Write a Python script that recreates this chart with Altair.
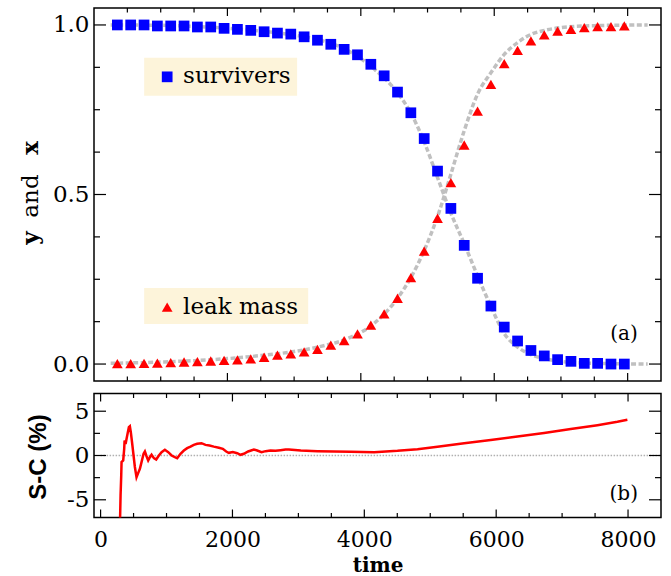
import altair as alt
import pandas as pd

# ---------------- data ----------------
marker_time = [350, 550, 750, 950, 1150, 1350, 1550, 1750, 1950, 2150, 2350, 2550, 2750,
               2950, 3150, 3350, 3550, 3750, 3950, 4150, 4350, 4550, 4750, 4950, 5150, 5350,
               5550, 5750, 5950, 6150, 6350, 6550, 6750, 6950, 7150, 7350, 7550, 7750, 7950]
survivers = [1.000, 1.000, 1.000, 0.997, 0.997, 0.997, 0.994, 0.994, 0.990, 0.987, 0.984,
             0.980, 0.976, 0.973, 0.965, 0.955, 0.943, 0.928, 0.912, 0.884, 0.850, 0.802,
             0.741, 0.665, 0.569, 0.459, 0.350, 0.253, 0.171, 0.109, 0.068, 0.040, 0.024,
             0.013, 0.008, 0.002, 0.002, 0.000, 0.000]
leak_mass = [0.001, 0.001, 0.002, 0.003, 0.004, 0.006, 0.007, 0.009, 0.011, 0.012, 0.015,
             0.020, 0.026, 0.030, 0.036, 0.043, 0.056, 0.069, 0.089, 0.115, 0.148, 0.194,
             0.255, 0.333, 0.430, 0.535, 0.646, 0.746, 0.825, 0.886, 0.925, 0.953, 0.971,
             0.982, 0.987, 0.992, 0.995, 0.995, 0.997]

curve_time = [250, 1000, 1500, 2000, 2500, 3000, 3400, 3800, 4200, 4550, 4750, 4950, 5150,
              5350, 5550, 5750, 5950, 6150, 6350, 6550, 6750, 7000, 7500, 8300]
curve_surv = [1.000, 0.999, 0.996, 0.990, 0.982, 0.970, 0.955, 0.925, 0.870, 0.800, 0.740,
              0.655, 0.550, 0.445, 0.355, 0.260, 0.170, 0.090, 0.050, 0.028, 0.016, 0.008,
              0.002, 0.000]
curve_leak = [0.002, 0.006, 0.010, 0.016, 0.025, 0.037, 0.052, 0.075, 0.120, 0.194, 0.255,
              0.335, 0.435, 0.560, 0.688, 0.796, 0.859, 0.913, 0.948, 0.972, 0.984, 0.992,
              0.998, 1.000]

sc_time = [282, 303, 313, 318, 343, 358, 364, 379, 394, 409, 429, 444, 459, 480, 500, 520,
           545, 571, 596, 621, 652, 672, 697, 722, 748, 773, 808, 843, 884, 925, 975, 1026,
           1077, 1126, 1162, 1212, 1263, 1313, 1364, 1414, 1465, 1531, 1591, 1652, 1718,
           1794, 1854, 1905, 1945, 2006, 2072, 2122, 2173, 2238, 2324, 2375, 2441, 2502,
           2577, 2653, 2729, 2805, 2856, 3037, 3290, 3542, 3795, 4149, 4503, 4807, 5110,
           5515, 5918, 6323, 6727, 7131, 7536, 7839, 7990]
sc_value = [-12.0, -4.5, -2.26, -0.75, -0.56, 0.75, 1.7, 1.3, 1.9, 2.45, 3.2, 3.3, 2.6, 1.3,
            0.0, -1.3, -2.45, -1.96, -1.5, -0.75, 0.2, 0.45, -0.08, -0.56, -0.19, 0.08,
            -0.3, -0.45, 0.0, 0.38, 0.64, 0.38, 0.0, -0.19, -0.3, 0.19, 0.56, 0.83, 1.0,
            1.2, 1.32, 1.39, 1.2, 1.13, 1.0, 0.87, 0.75, 0.45, 0.3, 0.38, 0.26, 0.08, 0.19,
            0.45, 0.68, 0.56, 0.38, 0.49, 0.56, 0.53, 0.6, 0.68, 0.68, 0.56, 0.49, 0.45,
            0.41, 0.38, 0.53, 0.71, 1.0, 1.39, 1.76, 2.15, 2.55, 2.98, 3.42, 3.8, 4.03]

top_y_major = [0.0, 0.5, 1.0]
top_y_minor = [0.125, 0.25, 0.375, 0.625, 0.75, 0.875]
top_x_major = [2000, 4000, 6000, 8000]
top_x_minor = [500, 1000, 1500, 2500, 3000, 3500, 4500, 5000, 5500, 6500, 7000, 7500]
bot_x_major = [0, 2000, 4000, 6000, 8000]
bot_x_minor = [500, 1000, 1500, 2500, 3000, 3500, 4500, 5000, 5500, 6500, 7000, 7500]
bot_y_major = [-5, 0, 5]
bot_y_minor = [-2.5, 2.5]

# ---------------- styling ----------------
SERIF = "DejaVu Serif"
FS = 23
W, H1, H2 = 567, 373, 124
INK = "black"


def xt():
    return alt.X("t:Q", scale=alt.Scale(domain=[0, 8500], nice=False, zero=False), axis=None)


def yt():
    return alt.Y("v:Q", scale=alt.Scale(domain=[-0.05, 1.05], nice=False, zero=False),
                 axis=alt.Axis(values=top_y_major, format=".1f", ticks=False, tickSize=0,
                               domain=False, grid=False, labelFont=SERIF, labelFontSize=FS,
                               labelColor=INK, labelPadding=5, title=None))


def xb():
    return alt.X("t:Q", scale=alt.Scale(domain=[-100, 8500], nice=False, zero=False),
                 axis=alt.Axis(values=bot_x_major, format="d", ticks=False, tickSize=0,
                               domain=False, grid=False, labelFont=SERIF, labelFontSize=22,
                               labelColor=INK, labelPadding=12, labelFlush=False,
                               labelOverlap=False, title="time", titleFont=SERIF,
                               titleFontWeight="bold", titleFontSize=20, titleColor=INK,
                               titleY=54, titleBaseline="alphabetic"))


def yb():
    return alt.Y("v:Q", scale=alt.Scale(domain=[-7, 7], nice=False, zero=False),
                 axis=alt.Axis(values=bot_y_major, labelExpr="toString(datum.value)",
                               ticks=False, tickSize=0, domain=False, grid=False,
                               labelFont=SERIF, labelFontSize=FS, labelColor=INK,
                               labelPadding=5, title="S-C (%)", titleFont="Liberation Sans",
                               titleFontWeight="bold", titleFontSize=24, titleColor=INK,
                               titleAngle=270, titleX=-49, titleY=63,
                               titleBaseline="alphabetic", titleAlign="center"))


def yticks(vals, yf, width, length):
    df = pd.DataFrame({"v": vals})
    left = alt.Chart(df).mark_rule(color=INK, strokeWidth=1.2).encode(
        y=yf(), x=alt.value(0), x2=alt.value(length))
    right = alt.Chart(df).mark_rule(color=INK, strokeWidth=1.2).encode(
        y=yf(), x=alt.value(width - length), x2=alt.value(width))
    return [left, right]


def xticks(vals, xf, height, length):
    df = pd.DataFrame({"t": vals})
    bottom = alt.Chart(df).mark_rule(color=INK, strokeWidth=1.2).encode(
        x=xf(), y=alt.value(height - length), y2=alt.value(height))
    top = alt.Chart(df).mark_rule(color=INK, strokeWidth=1.2).encode(
        x=xf(), y=alt.value(0), y2=alt.value(length))
    return [bottom, top]


# ---------------- top panel ----------------
curves = pd.DataFrame({
    "t": curve_time * 2,
    "v": curve_surv + curve_leak,
    "s": ["surv"] * len(curve_time) + ["leak"] * len(curve_time),
})
grey = alt.Chart(curves).mark_line(color="#c0c0c0", strokeWidth=3.5, strokeDash=[5, 2.5],
                                   interpolate="monotone").encode(
    x=xt(), y=yt(), detail="s:N")

sq_df = pd.DataFrame({"t": marker_time, "v": survivers})
tr_df = pd.DataFrame({"t": marker_time, "v": leak_mass})
squares = alt.Chart(sq_df).mark_point(shape="square", filled=True, size=115,
                                      color="#0000ff", opacity=1).encode(x=xt(), y=yt())
triangles = alt.Chart(tr_df).mark_point(shape="triangle-up", filled=True, size=115,
                                        color="#ff0000", opacity=1).encode(x=xt(), y=yt())

box_df = pd.DataFrame({"t": [752, 752], "t2": [3045, 3211],
                       "v": [0.791, 0.118], "v2": [0.903, 0.224]})
boxes = alt.Chart(box_df).mark_rect(color="#fdf4da").encode(
    x=xt(), x2="t2:Q", y=yt(), y2="v2:Q")
leg_sq = alt.Chart(pd.DataFrame({"t": [1097], "v": [0.847]})).mark_point(
    shape="square", filled=True, size=115, color="#0000ff", opacity=1).encode(x=xt(), y=yt())
leg_tr = alt.Chart(pd.DataFrame({"t": [1097], "v": [0.168]})).mark_point(
    shape="triangle-up", filled=True, size=115, color="#ff0000", opacity=1).encode(x=xt(), y=yt())
leg_txt = alt.Chart(pd.DataFrame({"t": [1336, 1336], "v": [0.850, 0.167],
                                  "label": ["survivers", "leak mass"]})).mark_text(
    font=SERIF, fontSize=FS, align="left", baseline="middle", color=INK).encode(
    x=xt(), y=yt(), text="label:N")
tag_a = alt.Chart(pd.DataFrame({"t": [7945], "v": [0.088]})).mark_text(
    text="(a)", font=SERIF, fontSize=20, align="center", baseline="middle", color=INK).encode(
    x=xt(), y=yt())

one = pd.DataFrame({"a": [0]})
ttl_y = alt.Chart(one).mark_text(text="y", font=SERIF, fontWeight="bold", fontSize=FS,
                                 angle=270, align="center", baseline="alphabetic",
                                 color=INK).encode(x=alt.value(-56), y=alt.value(230))
ttl_and = alt.Chart(one).mark_text(text="and", font=SERIF, fontSize=FS, angle=270,
                                   align="center", baseline="alphabetic",
                                   color=INK).encode(x=alt.value(-56), y=alt.value(188))
ttl_x = alt.Chart(one).mark_text(text="x", font=SERIF, fontWeight="bold", fontSize=FS,
                                 angle=270, align="center", baseline="alphabetic",
                                 color=INK).encode(x=alt.value(-56), y=alt.value(140))

top_layers = [boxes, grey, squares, triangles, leg_sq, leg_tr, leg_txt, tag_a,
              ttl_y, ttl_and, ttl_x]
top_layers += yticks(top_y_major, yt, W, 12)
top_layers += yticks(top_y_minor, yt, W, 6)
top_layers += xticks(top_x_major, xt, H1, 8)
top_layers += xticks(top_x_minor, xt, H1, 4.5)
top = alt.layer(*top_layers).properties(width=W, height=H1)

# ---------------- bottom panel ----------------
zero_df = pd.DataFrame({"t": [0], "t2": [8500], "v": [0]})
zero_line = alt.Chart(zero_df).mark_rule(color="#b0b0b0", strokeWidth=1.5,
                                         strokeDash=[1.5, 1.5]).encode(
    x=xb(), x2="t2:Q", y=yb())
sc_df = pd.DataFrame({"t": sc_time, "v": sc_value})
sc_line = alt.Chart(sc_df).mark_line(color="#ff0000", strokeWidth=2.5, clip=True).encode(
    x=xb(), y=yb())
tag_b = alt.Chart(pd.DataFrame({"t": [7935], "v": [-4.3]})).mark_text(
    text="(b)", font=SERIF, fontSize=20, align="center", baseline="middle", color=INK).encode(
    x=xb(), y=yb())

bot_layers = [zero_line, sc_line, tag_b]
bot_layers += yticks(bot_y_major, yb, W, 12)
bot_layers += yticks(bot_y_minor, yb, W, 6)
bot_layers += xticks(bot_x_major, xb, H2, 8)
bot_layers += xticks(bot_x_minor, xb, H2, 4.5)
bottom = alt.layer(*bot_layers).properties(width=W, height=H2)

chart = alt.vconcat(top, bottom, spacing=8.5).properties(
    padding={"left": 19, "top": 6, "right": 4, "bottom": 0},
    background="white",
).configure_view(stroke=INK, strokeWidth=1.5).configure_concat(spacing=8.5)

chart.save("out.html", embed_options={"renderer": "svg", "actions": False})
